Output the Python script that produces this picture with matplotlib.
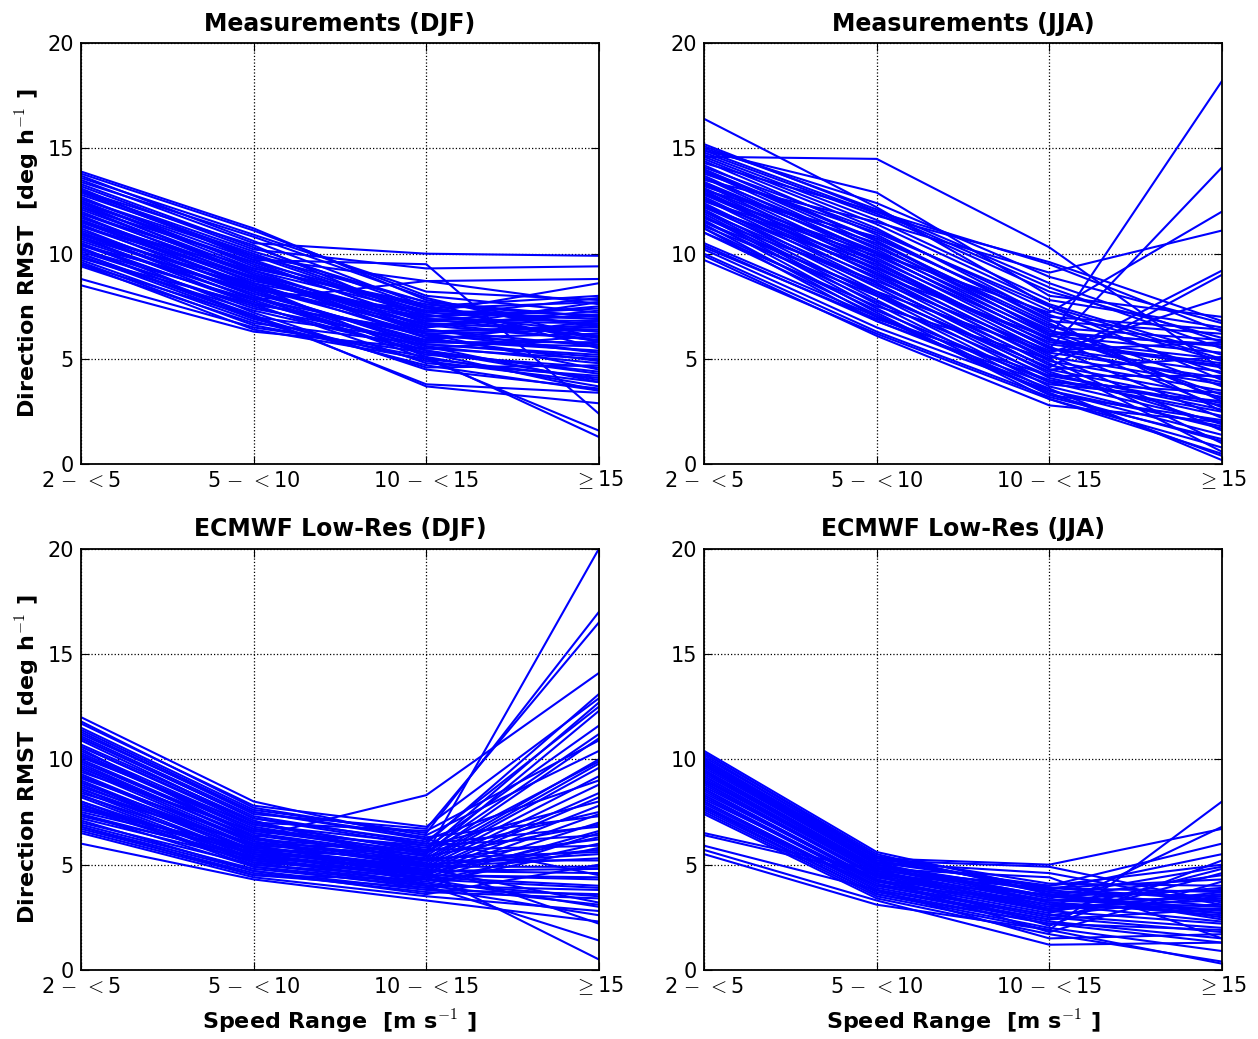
import numpy as np
import matplotlib
matplotlib.use("Agg")
import matplotlib.pyplot as plt
import matplotlib.transforms as mtransforms

plt.rcParams['mathtext.fontset'] = 'cm'

speed_labels = ['2 $-$ $<$5', '5 $-$ $<$10', '10 $-$ $<$15', r'$\geq$15']

# each row: RMST for the four speed ranges
meas_djf = [
    [13.9, 11.2, 7.8, 6.5], [13.8, 11.1, 8.0, 7.2], [13.7, 10.6, 7.5, 5.8],
    [13.5, 10.5, 10.0, 9.9], [13.2, 10.2, 9.3, 9.4], [12.9, 9.8, 8.7, 8.8],
    [12.8, 10.0, 7.2, 8.6], [12.6, 9.7, 7.0, 7.9], [12.5, 9.5, 6.8, 7.5],
    [12.4, 9.6, 7.4, 7.7], [12.3, 9.2, 6.5, 7.3], [12.2, 9.0, 6.9, 6.8],
    [12.0, 8.8, 6.3, 6.6], [11.9, 9.3, 7.6, 7.0], [11.8, 8.6, 6.0, 6.2],
    [11.7, 8.9, 6.6, 5.9], [11.6, 8.4, 6.2, 6.4], [11.5, 8.7, 7.1, 6.0],
    [11.4, 8.2, 5.8, 5.6], [11.3, 8.5, 6.4, 5.3], [11.2, 8.0, 5.5, 5.0],
    [11.1, 8.3, 6.7, 6.3], [11.0, 7.8, 5.2, 4.6], [10.9, 8.1, 5.9, 5.4],
    [10.8, 7.6, 4.8, 4.2], [10.7, 7.9, 6.1, 5.7], [11.5, 8.5, 5.1, 1.3],
    [11.0, 8.0, 5.0, 1.6], [10.5, 7.2, 4.5, 3.6], [10.4, 7.7, 5.6, 4.8],
    [10.3, 7.0, 3.8, 3.4], [10.1, 7.5, 5.3, 4.4], [10.0, 7.1, 3.7, 2.9],
    [9.9, 6.9, 4.9, 3.9], [9.8, 7.3, 5.4, 4.0], [9.7, 6.8, 4.7, 3.5],
    [9.6, 6.6, 5.1, 3.7], [9.5, 6.4, 5.0, 4.1], [9.4, 6.7, 5.7, 5.1],
    [8.8, 6.5, 5.3, 3.5], [8.5, 6.3, 5.5, 6.1], [10.2, 7.8, 8.7, 7.6],
    [12.7, 9.4, 7.3, 6.9], [12.1, 9.1, 6.6, 7.1], [11.6, 8.8, 6.8, 6.7],
    [10.9, 8.6, 7.0, 7.4], [13.0, 9.9, 7.7, 5.5], [13.4, 10.8, 7.9, 6.0],
    [13.1, 9.7, 9.5, 2.4], [12.4, 9.0, 6.2, 4.5],
    [13.6, 10.9, 8.2, 7.8], [13.3, 10.3, 7.4, 6.6], [12.95, 10.1, 7.7, 7.0],
    [12.6, 9.9, 7.1, 6.3], [12.2, 9.6, 6.7, 5.9], [11.9, 9.0, 6.4, 5.6],
    [11.5, 9.2, 7.2, 6.9], [11.3, 8.9, 6.0, 4.9], [11.0, 8.4, 6.5, 7.7],
    [10.8, 8.2, 5.7, 5.2], [10.6, 7.9, 5.4, 4.3], [10.5, 7.6, 6.3, 6.5],
    [10.2, 7.4, 5.8, 5.8], [10.0, 7.0, 4.6, 4.7], [9.8, 7.6, 6.2, 5.3],
    [9.5, 7.0, 5.9, 6.8], [12.5, 9.3, 7.5, 8.0], [13.0, 10.4, 6.9, 6.1],
    [11.8, 8.3, 5.6, 3.9], [10.4, 8.3, 7.3, 7.1],
]

meas_jja = [
    [16.4, 12.2, 7.5, 5.0], [15.2, 12.0, 9.5, 6.3], [14.9, 12.9, 8.0, 7.0],
    [14.6, 14.5, 10.3, 4.5], [14.8, 11.8, 9.6, 6.8], [13.5, 11.5, 9.1, 11.1],
    [13.0, 9.0, 6.0, 18.2], [12.5, 9.5, 5.5, 14.1], [12.8, 10.0, 7.2, 12.0],
    [11.0, 7.5, 5.0, 9.2], [11.3, 8.0, 4.6, 9.0], [11.5, 8.2, 5.3, 7.9],
    [14.7, 11.6, 7.8, 6.5], [14.5, 11.2, 7.0, 6.4], [14.4, 10.9, 6.8, 6.2],
    [14.2, 10.6, 6.5, 5.9], [14.0, 10.4, 6.3, 5.6], [13.9, 10.2, 6.1, 5.3],
    [13.7, 10.0, 5.9, 5.0], [13.6, 9.8, 5.7, 4.7], [13.4, 9.6, 5.5, 4.4],
    [13.3, 9.4, 5.3, 4.1], [13.1, 9.2, 5.1, 3.8], [12.9, 9.0, 4.9, 3.5],
    [12.7, 8.8, 4.7, 3.2], [12.6, 8.6, 4.5, 2.9], [12.4, 8.4, 4.3, 2.6],
    [12.3, 8.2, 4.1, 2.3], [12.1, 8.0, 3.9, 2.0], [12.0, 7.8, 3.7, 1.7],
    [11.9, 7.6, 3.5, 1.4], [11.8, 7.4, 3.3, 1.1], [11.6, 7.2, 3.1, 0.8],
    [11.4, 7.0, 3.4, 0.4], [11.2, 6.8, 3.6, 0.2], [13.8, 11.0, 7.5, 4.0],
    [13.2, 10.5, 6.7, 3.0], [12.2, 9.3, 5.8, 4.8], [11.7, 8.7, 5.4, 5.8],
    [14.3, 12.0, 8.4, 5.5], [13.0, 10.8, 6.9, 2.5], [12.5, 9.9, 6.2, 3.3],
    [10.5, 7.0, 4.0, 2.5], [10.4, 6.8, 3.8, 3.0], [10.2, 6.5, 3.5, 1.8],
    [10.0, 6.3, 3.2, 1.2], [9.9, 6.1, 2.8, 2.0], [9.7, 6.2, 3.1, 0.5],
    [10.3, 6.9, 4.2, 4.2], [15.0, 12.4, 8.9, 6.7],
    [15.1, 12.1, 8.6, 5.8], [14.9, 11.9, 8.2, 6.0], [14.6, 11.4, 7.6, 5.2],
    [14.1, 11.1, 7.3, 4.9], [13.9, 10.7, 7.1, 4.3], [13.6, 10.3, 6.6, 3.7],
    [13.3, 10.1, 6.4, 3.1], [13.1, 9.7, 6.0, 2.7], [12.8, 9.3, 5.6, 2.2],
    [12.6, 9.1, 5.2, 1.6], [12.3, 8.9, 5.0, 1.0], [12.0, 8.5, 4.8, 0.6],
    [11.7, 8.1, 4.4, 1.9], [11.5, 7.7, 4.2, 2.8], [11.2, 7.3, 3.9, 3.4],
    [11.0, 7.1, 3.3, 2.1], [14.0, 10.6, 6.2, 5.7], [13.4, 10.0, 5.9, 4.6],
    [12.9, 9.6, 5.5, 3.9], [12.2, 8.6, 4.5, 5.1],
]

ecmwf_djf = [
    [12.0, 8.0, 6.2, 4.5], [11.7, 7.8, 6.8, 12.9], [11.5, 7.6, 6.5, 17.0],
    [11.3, 7.4, 6.7, 16.5], [11.1, 7.3, 6.0, 13.1], [11.0, 7.2, 6.1, 12.5],
    [10.5, 6.3, 8.3, 14.1], [10.6, 6.9, 5.7, 12.7], [10.4, 6.8, 5.5, 12.3],
    [10.3, 6.7, 5.8, 11.6], [10.2, 6.6, 5.6, 11.2], [10.0, 6.5, 5.4, 11.0],
    [9.9, 6.4, 5.3, 10.0], [9.8, 6.2, 5.2, 9.8], [9.6, 6.1, 5.1, 9.6],
    [9.5, 6.0, 5.0, 9.2], [9.3, 5.9, 5.5, 20.0], [9.2, 5.8, 4.9, 8.8],
    [9.0, 5.7, 4.8, 8.4], [8.9, 5.6, 4.7, 8.2], [8.8, 5.5, 4.6, 7.8],
    [8.6, 5.4, 4.5, 7.4], [8.5, 5.3, 4.4, 7.0], [8.3, 5.2, 4.3, 6.6],
    [8.2, 5.1, 4.6, 6.3], [8.0, 5.0, 4.2, 6.0], [7.9, 4.9, 4.1, 5.8],
    [7.8, 5.5, 5.0, 5.5], [7.6, 5.8, 5.2, 5.2], [7.5, 5.6, 4.9, 4.9],
    [7.3, 5.4, 4.7, 4.6], [7.2, 5.2, 4.5, 4.3], [7.0, 5.0, 4.4, 4.0],
    [6.9, 4.8, 4.0, 3.8], [6.8, 4.7, 3.8, 3.6], [6.7, 4.6, 3.7, 3.4],
    [6.6, 4.5, 4.3, 3.0], [6.5, 4.4, 3.5, 2.8], [6.0, 4.3, 3.3, 2.3],
    [10.7, 7.1, 5.0, 2.2], [9.7, 6.3, 4.0, 1.4], [8.7, 5.9, 4.6, 0.5],
    [11.2, 7.5, 6.3, 7.3], [10.1, 6.9, 6.0, 6.8], [9.4, 6.6, 5.9, 6.4],
    [8.4, 6.0, 5.7, 5.9], [7.7, 5.7, 5.3, 5.6], [10.9, 7.0, 6.6, 10.9],
    [9.1, 6.2, 5.6, 9.9], [7.4, 5.3, 4.8, 3.2],
    [11.8, 7.7, 6.4, 10.4], [11.4, 7.5, 6.2, 9.0], [11.0, 7.2, 5.9, 8.0],
    [10.6, 7.0, 5.6, 7.5], [10.2, 6.7, 5.4, 6.9], [9.9, 6.5, 5.2, 6.2],
    [9.6, 6.3, 5.0, 5.7], [9.2, 6.1, 4.9, 5.3], [8.9, 5.9, 4.7, 4.8],
    [8.6, 5.7, 4.5, 4.4], [8.3, 5.5, 4.3, 3.9], [8.0, 5.3, 4.1, 3.5],
    [7.7, 5.1, 4.0, 3.1], [7.4, 4.9, 3.9, 2.6], [7.1, 4.7, 3.6, 5.0],
    [6.8, 4.5, 3.9, 6.5],
]

ecmwf_jja = [
    [10.4, 5.6, 3.8, 3.0], [10.3, 5.5, 3.6, 2.8], [10.1, 5.4, 3.7, 3.5],
    [10.0, 5.3, 5.0, 6.7], [9.9, 5.2, 4.9, 3.2], [9.8, 5.1, 4.6, 3.1],
    [9.6, 5.0, 3.5, 3.8], [9.5, 4.9, 3.4, 4.5], [9.3, 4.8, 3.3, 3.4],
    [9.2, 4.7, 3.2, 2.6], [9.0, 4.6, 3.1, 2.9], [8.9, 4.5, 3.0, 3.3],
    [8.8, 4.4, 2.9, 3.6], [8.6, 4.3, 2.8, 2.2], [8.5, 4.2, 2.7, 4.8],
    [8.3, 4.1, 2.6, 2.0], [8.2, 4.0, 2.5, 1.8], [8.0, 3.9, 2.4, 4.6],
    [7.9, 3.8, 2.3, 1.5], [7.8, 3.7, 2.2, 1.3], [7.6, 3.6, 2.0, 0.9],
    [7.5, 3.5, 1.9, 0.3], [7.4, 3.4, 1.7, 0.4], [6.5, 4.7, 4.0, 5.0],
    [6.4, 4.5, 3.9, 4.3], [5.9, 3.8, 1.5, 1.7], [5.7, 3.3, 1.2, 1.3],
    [5.5, 3.1, 1.9, 8.0], [9.7, 5.1, 4.0, 6.0], [9.4, 4.9, 3.8, 5.5],
    [9.1, 4.6, 2.9, 6.8], [8.7, 4.5, 2.1, 5.2], [8.4, 4.3, 1.8, 4.2],
    [9.0, 4.8, 4.4, 1.5], [8.1, 4.2, 3.6, 2.5], [7.7, 4.0, 3.3, 3.0],
    [10.2, 5.3, 3.9, 3.7], [9.8, 5.0, 3.5, 2.7],
    [10.3, 5.4, 4.1, 4.0], [10.0, 5.2, 3.9, 3.3], [9.7, 5.0, 3.7, 2.4],
    [9.5, 4.8, 3.5, 4.9], [9.2, 4.6, 3.3, 3.9], [8.9, 4.4, 3.1, 2.3],
    [8.6, 4.2, 2.9, 3.1], [8.3, 4.0, 2.6, 3.5], [8.0, 3.8, 2.4, 2.9],
    [7.7, 3.6, 2.2, 1.9], [9.9, 5.1, 3.2, 2.7], [9.4, 4.7, 2.8, 3.7],
]

titles = ['Measurements (DJF)', 'Measurements (JJA)',
          'ECMWF Low-Res (DJF)', 'ECMWF Low-Res (JJA)']
panels = [meas_djf, meas_jja, ecmwf_djf, ecmwf_jja]

fig, axes = plt.subplots(2, 2, figsize=(12.58, 10.39), dpi=100)
plt.subplots_adjust(left=0.0644, right=0.9714, top=0.9586, bottom=0.0664,
                    wspace=0.203, hspace=0.2)

# the >= label sits a bit low because of the glyph's descent; nudge it up
nudge = mtransforms.ScaledTranslation(0, 3 / 100.0, fig.dpi_scale_trans)

x = np.arange(len(speed_labels))
for k, ax in enumerate(axes.flat):
    data = np.array(panels[k])
    for row in data:
        ax.plot(x, row, color='b', lw=1.5)
    ax.set_xlim(0, 3)
    ax.set_ylim(0, 20)
    ax.set_xticks(x)
    ax.set_xticklabels(speed_labels)
    ax.set_yticks([0, 5, 10, 15, 20])
    ax.grid(True, color='k', ls=':', lw=0.9)
    ax.tick_params(direction='in', top=True, right=True, length=6,
                   labelsize=15, pad=5)
    last = ax.get_xticklabels()[-1]
    last.set_transform(last.get_transform() + nudge)
    for sp in ax.spines.values():
        sp.set_linewidth(1.3)
    ax.set_title(titles[k], fontsize=17, fontweight='bold', pad=9)
    if k % 2 == 0:
        ax.set_ylabel(r'Direction RMST  [deg h$^{-1}$ ]', fontsize=16,
                      fontweight='bold', labelpad=4)
    if k >= 2:
        ax.set_xlabel(r'Speed Range  [m s$^{-1}$ ]', fontsize=16,
                      fontweight='bold', labelpad=8)

fig.savefig('out.png', dpi=100)
plt.close(fig)
